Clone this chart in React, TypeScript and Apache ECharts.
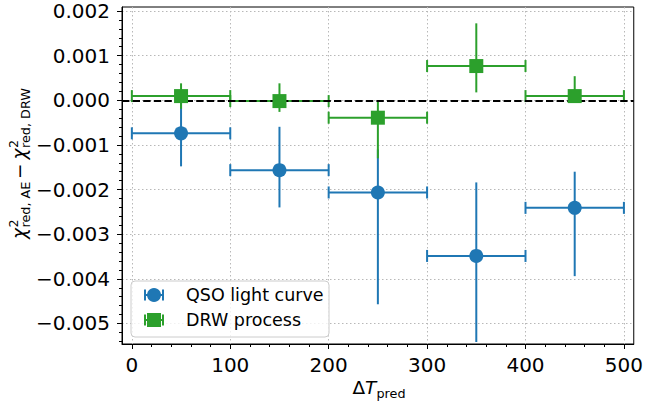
import React, { useEffect, useRef } from "react";
import * as echarts from "echarts";

// ---- data ----
const binCenters = [50, 150, 250, 350, 450];
const binHalfWidth = [50, 50, 50, 50, 50];

const qsoValue = [-0.00074, -0.001565, -0.002065, -0.003487, -0.00241];
const qsoLower = [-0.00148, -0.0024, -0.00457, -0.005415, -0.00394];
const qsoUpper = [0.0, -0.000594, -0.0011, -0.00184, -0.0016];

const drwValue = [0.000094, -0.000018, -0.00039, 0.000767, 0.000094];
const drwLower = [-0.00019, -0.00026, -0.0013, 0.000177, -0.00005];
const drwUpper = [0.00038, 0.00038, 0.0, 0.001724, 0.00054];

const xTicks = [0, 100, 200, 300, 400, 500];
const yTicks = [-0.005, -0.004, -0.003, -0.002, -0.001, 0, 0.001, 0.002];

const seriesNames = ["QSO light curve", "DRW process"];
const BLUE = "#1f77b4";
const GREEN = "#2ca02c";
const FONT = '"DejaVu Sans", sans-serif';

function fmtY(v: number): string {
  const s = Math.abs(v).toFixed(3);
  return v < -1e-12 ? "\u2212" + s : s;
}

function errData(vals: number[], lo: number[], hi: number[]) {
  return binCenters.map((x, i) => [x, vals[i], binHalfWidth[i], lo[i], hi[i]]);
}

function makeErrRender(color: string) {
  return (params: any, api: any) => {
    const x = api.value(0);
    const y = api.value(1);
    const xe = api.value(2);
    const lo = api.value(3);
    const hi = api.value(4);
    const pL = api.coord([x - xe, y]);
    const pR = api.coord([x + xe, y]);
    const pLo = api.coord([x, lo]);
    const pHi = api.coord([x, hi]);
    const style = { stroke: color, lineWidth: 2, fill: "none" };
    const cap = 6;
    return {
      type: "group",
      children: [
        { type: "line", shape: { x1: pL[0], y1: pL[1], x2: pR[0], y2: pR[1] }, style },
        { type: "line", shape: { x1: pL[0], y1: pL[1] - cap, x2: pL[0], y2: pL[1] + cap }, style },
        { type: "line", shape: { x1: pR[0], y1: pR[1] - cap, x2: pR[0], y2: pR[1] + cap }, style },
        { type: "line", shape: { x1: pLo[0], y1: pLo[1], x2: pHi[0], y2: pHi[1] }, style },
      ],
    };
  };
}

// text placed by baseline (svg renderer uses central baseline for "middle")
function txt(text: string, x: number, baseline: number, size: number, italic = false, z = 100) {
  return {
    type: "text",
    z,
    style: {
      text,
      x,
      y: baseline - 0.346 * size,
      font: `${italic ? "italic " : ""}${size}px ${FONT}`,
      fill: "#000",
      align: "left",
      verticalAlign: "middle",
      textAlign: "left",
      textVerticalAlign: "middle",
    },
  };
}

export default function App() {
  const ref = useRef<HTMLDivElement>(null);
  useEffect(() => {
    if (!ref.current) return;
    const chart = echarts.init(ref.current, null, { renderer: "svg" });
    const gridLine = { show: true, lineStyle: { color: "#b8b8b8", width: 1, type: [1.5, 2.5] as any } };
    const SUB = 12.8;
    const MAIN = 18.5;
    const LEG = 17.5;
    const option: any = {
      animation: false,
      backgroundColor: "#ffffff",
      grid: {
        left: 122,
        right: 9,
        top: 7,
        bottom: 58,
        show: true,
        borderColor: "#000",
        borderWidth: 1,
        backgroundColor: "transparent",
      },
      xAxis: {
        type: "value",
        min: -10,
        max: 510,
        splitNumber: 5,
        minInterval: 100,
        maxInterval: 100,
        axisLine: { show: true, onZero: false, lineStyle: { color: "#000", width: 1 } },
        axisTick: { show: true, inside: false, length: 5, lineStyle: { color: "#000", width: 1 }, customValues: xTicks },
        minorTick: { show: true, splitNumber: 5, length: 3, lineStyle: { color: "#000", width: 1 } },
        axisLabel: {
          customValues: xTicks,
          fontSize: 20,
          fontFamily: FONT,
          color: "#000",
          margin: 11,
        },
        splitLine: gridLine,
      },
      yAxis: {
        type: "value",
        min: -0.00546,
        max: 0.00209,
        splitNumber: 8,
        minInterval: 0.001,
        maxInterval: 0.001,
        axisLine: { show: true, onZero: false, lineStyle: { color: "#000", width: 1 } },
        axisTick: { show: true, inside: false, length: 5, lineStyle: { color: "#000", width: 1 }, customValues: yTicks },
        minorTick: { show: true, splitNumber: 5, length: 3, lineStyle: { color: "#000", width: 1 } },
        axisLabel: {
          customValues: yTicks,
          fontSize: 20,
          fontFamily: FONT,
          color: "#000",
          margin: 12,
          formatter: (v: number) => fmtY(v),
        },
        splitLine: gridLine,
      },
      series: [
        {
          type: "custom",
          name: seriesNames[0] + " err",
          renderItem: makeErrRender(BLUE),
          data: errData(qsoValue, qsoLower, qsoUpper),
          encode: { x: 0, y: 1 },
          z: 1,
          silent: true,
        },
        {
          type: "custom",
          name: seriesNames[1] + " err",
          renderItem: makeErrRender(GREEN),
          data: errData(drwValue, drwLower, drwUpper),
          encode: { x: 0, y: 1 },
          z: 1,
          silent: true,
        },
        {
          type: "scatter",
          name: "zero",
          data: [],
          z: 2,
          markLine: {
            silent: true,
            z: 2,
            symbol: ["none", "none"],
            label: { show: false },
            lineStyle: { color: "#000", width: 2, type: [7.4, 3.2] },
            data: [{ yAxis: 0 }],
          },
        },
        {
          type: "scatter",
          name: seriesNames[0],
          symbol: "circle",
          symbolSize: 14,
          itemStyle: { color: BLUE, opacity: 1 },
          data: binCenters.map((x, i) => [x, qsoValue[i]]),
          z: 3,
        },
        {
          type: "scatter",
          name: seriesNames[1],
          symbol: "rect",
          symbolSize: 14,
          itemStyle: { color: GREEN, opacity: 1 },
          data: binCenters.map((x, i) => [x, drwValue[i]]),
          z: 3,
        },
      ],
      graphic: [
        // y-axis title, rotated
        {
          type: "group",
          x: 26,
          y: 239,
          rotation: Math.PI / 2,
          children: [
            txt("\u03c7", 0, 0, MAIN, true),
            txt("2", 11.5, -8.5, SUB),
            txt("red, AE", 11.5, 4, SUB),
            txt("\u2212", 60, 0, MAIN),
            txt("\u03c7", 79.5, 0, MAIN, true),
            txt("2", 91, -8.5, SUB),
            txt("red, DRW", 91, 4, SUB),
          ],
        },
        // x-axis title
        txt("\u0394", 352.5, 393.5, MAIN),
        txt("T", 365, 393.5, MAIN, true),
        txt("pred", 376.5, 397.5, SUB),
        // legend
        {
          type: "rect",
          z: 100,
          shape: { x: 131, y: 281, width: 198, height: 56, r: 4 },
          style: { fill: "rgba(255,255,255,0.8)", stroke: "#cccccc", lineWidth: 1 },
        },
        { type: "line", z: 101, shape: { x1: 145, y1: 295, x2: 163, y2: 295 }, style: { stroke: BLUE, lineWidth: 2 } },
        { type: "line", z: 101, shape: { x1: 145, y1: 289.5, x2: 145, y2: 300.5 }, style: { stroke: BLUE, lineWidth: 2 } },
        { type: "line", z: 101, shape: { x1: 163, y1: 289.5, x2: 163, y2: 300.5 }, style: { stroke: BLUE, lineWidth: 2 } },
        { type: "circle", z: 102, shape: { cx: 154, cy: 295, r: 7 }, style: { fill: BLUE } },
        txt(seriesNames[0], 186, 295 + 0.346 * LEG, LEG, false, 102),
        { type: "line", z: 101, shape: { x1: 145, y1: 320, x2: 163, y2: 320 }, style: { stroke: GREEN, lineWidth: 2 } },
        { type: "line", z: 101, shape: { x1: 145, y1: 314.5, x2: 145, y2: 325.5 }, style: { stroke: GREEN, lineWidth: 2 } },
        { type: "line", z: 101, shape: { x1: 163, y1: 314.5, x2: 163, y2: 325.5 }, style: { stroke: GREEN, lineWidth: 2 } },
        { type: "rect", z: 102, shape: { x: 147, y: 313, width: 14, height: 14 }, style: { fill: GREEN } },
        txt(seriesNames[1], 186, 320 + 0.346 * LEG, LEG, false, 102),
      ],
    };
    chart.setOption(option);
    return () => chart.dispose();
  }, []);
  return (
    <div
      ref={ref}
      style={{ position: "absolute", left: 0, top: 0, width: 646, height: 402, background: "#fff" }}
    />
  );
}
